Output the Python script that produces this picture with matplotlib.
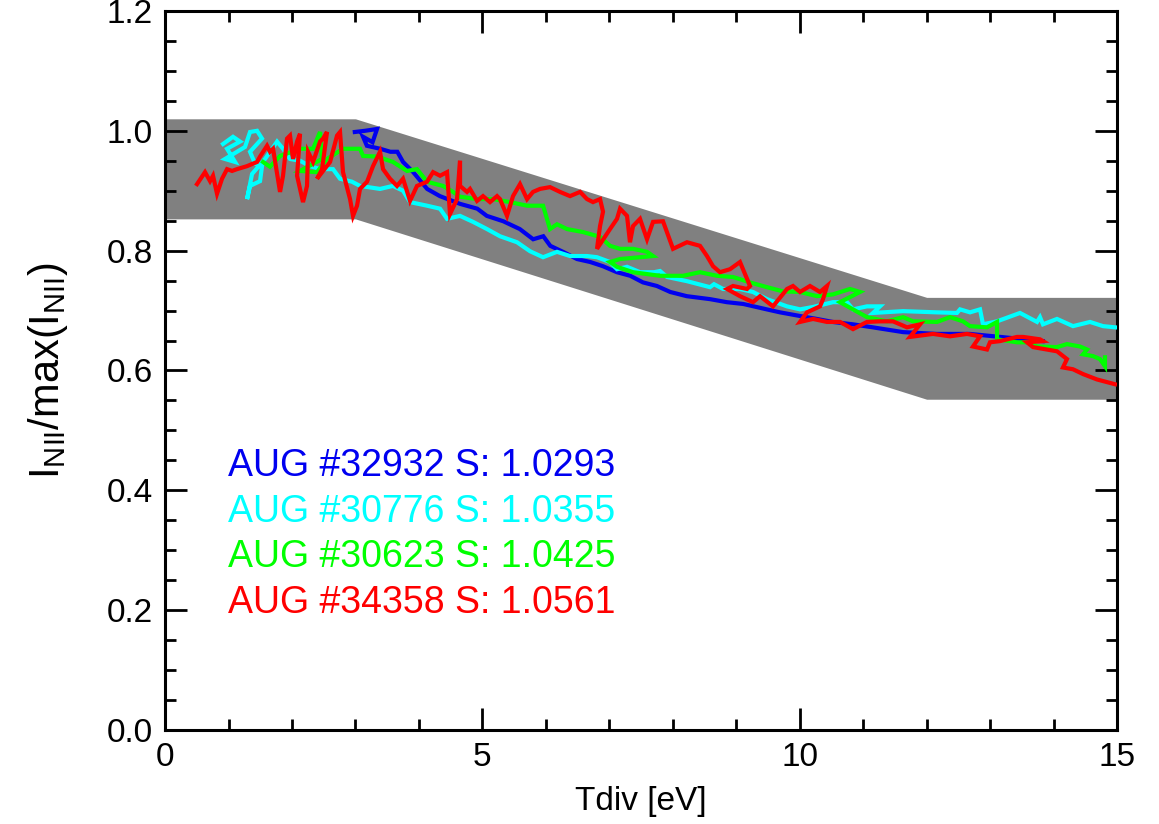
import matplotlib
matplotlib.use("Agg")
import matplotlib.pyplot as plt
from matplotlib.ticker import MultipleLocator

plt.rcParams['font.family'] = ['Liberation Sans', 'DejaVu Sans']
plt.rcParams['mathtext.fontset'] = 'custom'
plt.rcParams['mathtext.rm'] = 'Liberation Sans'
plt.rcParams['mathtext.it'] = 'Liberation Sans'

# ---- band (uncertainty corridor) ----
band_x = [0, 3, 12, 15]
band_lo = [0.853, 0.853, 0.552, 0.552]
band_hi = [1.02, 1.02, 0.722, 0.722]

# ---- AUG #32932 (blue) ----
blue_x = [2.99, 3.15, 3.34, 3.27, 3.12, 3.18, 3.39, 3.55, 3.66, 3.75, 3.91, 4.13, 4.33, 4.65, 4.92,
          5.07, 5.33, 5.59, 5.80, 5.96, 6.07, 6.27, 6.49, 6.70, 6.90, 7.12, 7.33, 7.53, 7.75, 7.96,
          8.22, 8.59, 8.85, 9.11, 9.48, 9.69, 10.0, 10.27, 10.52, 10.84, 11.15, 11.63, 12.16, 12.68,
          13.16, 13.83]
blue_y = [0.998, 1.0, 1.003, 0.981, 0.99, 0.975, 0.970, 0.965, 0.965, 0.948, 0.931, 0.903, 0.891,
          0.878, 0.870, 0.858, 0.849, 0.836, 0.819, 0.824, 0.808, 0.798, 0.786, 0.781, 0.774, 0.764,
          0.758, 0.747, 0.741, 0.731, 0.724, 0.719, 0.714, 0.711, 0.702, 0.697, 0.691, 0.686, 0.681,
          0.677, 0.672, 0.664, 0.661, 0.661, 0.656, 0.649]

# ---- AUG #30776 (cyan) ----
cyan_x = [0.914, 1.071, 1.182, 0.977, 1.103, 0.945, 1.260, 1.339, 1.450, 1.528, 1.339, 1.418, 1.528,
          1.497, 1.339, 1.292, 1.371, 1.576, 1.765, 1.859, 1.969, 2.127, 2.285, 2.442, 2.647, 2.757,
          2.946, 3.072, 3.387, 3.592, 3.750, 3.860, 4.128, 4.333, 4.443, 4.648, 4.853, 5.073, 5.278,
          5.546, 5.751, 5.956, 6.176, 6.381, 6.649, 6.806, 7.011, 7.121, 7.279, 7.484, 7.705, 7.799,
          7.910, 8.225, 8.587, 8.650, 8.792, 9.059, 9.264, 9.485, 9.800, 10.005, 10.210, 10.525,
          10.745, 10.840, 11.060, 11.265, 11.155, 11.312, 11.628, 12.163, 12.478, 12.526, 12.683,
          12.841, 12.888, 13.109, 13.471, 13.739, 13.786, 13.833, 14.054, 14.306, 14.574, 14.779,
          14.968]
cyan_y = [0.978, 0.990, 0.982, 0.970, 0.948, 0.953, 0.973, 0.998, 1.0, 0.987, 0.965, 0.945, 0.941,
          0.916, 0.908, 0.886, 0.928, 0.953, 0.982, 0.970, 0.953, 0.950, 0.941, 0.936, 0.936, 0.920,
          0.915, 0.908, 0.903, 0.908, 0.900, 0.881, 0.875, 0.870, 0.853, 0.858, 0.848, 0.836, 0.824,
          0.814, 0.799, 0.789, 0.798, 0.791, 0.791, 0.789, 0.781, 0.769, 0.773, 0.764, 0.764, 0.766,
          0.756, 0.749, 0.739, 0.744, 0.736, 0.736, 0.731, 0.719, 0.707, 0.702, 0.706, 0.714, 0.714,
          0.702, 0.707, 0.707, 0.696, 0.697, 0.699, 0.697, 0.696, 0.702, 0.697, 0.702, 0.677, 0.682,
          0.696, 0.681, 0.689, 0.677, 0.686, 0.674, 0.681, 0.674, 0.672]

# ---- AUG #30623 (green) ----
green_x = [1.544, 1.654, 1.812, 2.127, 2.332, 2.442, 2.474, 2.127, 2.395, 2.552, 2.804, 3.072, 3.120,
           3.340, 3.592, 3.813, 3.970, 4.128, 4.380, 4.538, 4.648, 4.916, 5.168, 5.436, 5.704, 5.956,
           6.066, 6.176, 6.334, 6.586, 6.854, 7.011, 7.169, 7.374, 7.594, 7.689, 7.484, 7.169, 7.011,
           7.121, 7.374, 7.799, 8.161, 8.429, 8.697, 8.949, 9.217, 9.485, 9.737, 10.005, 10.273,
           10.525, 10.792, 10.950, 10.635, 11.060, 11.375, 11.628, 11.785, 12.163, 12.368, 12.573,
           12.683, 12.951, 13.109, 13.109, 13.424, 13.628, 13.739, 14.054, 14.211, 14.416, 14.527,
           14.464, 14.621, 14.731, 14.810, 14.810]
green_y = [0.948, 0.940, 0.958, 0.970, 0.970, 0.998, 0.953, 0.933, 0.931, 0.953, 0.970, 0.970, 0.958,
           0.957, 0.948, 0.933, 0.936, 0.915, 0.908, 0.898, 0.890, 0.886, 0.886, 0.881, 0.875, 0.875,
           0.836, 0.844, 0.836, 0.831, 0.823, 0.808, 0.803, 0.803, 0.798, 0.791, 0.789, 0.786, 0.781,
           0.773, 0.764, 0.758, 0.758, 0.764, 0.758, 0.756, 0.747, 0.739, 0.732, 0.731, 0.724, 0.727,
           0.736, 0.731, 0.714, 0.689, 0.682, 0.689, 0.682, 0.681, 0.689, 0.682, 0.674, 0.672, 0.681,
           0.652, 0.647, 0.647, 0.640, 0.639, 0.644, 0.640, 0.635, 0.627, 0.624, 0.619, 0.607, 0.622]

# ---- AUG #34358 (red) ----
red_x = [0.504, 0.630, 0.709, 0.756, 0.819, 0.898, 0.977, 1.056, 1.134, 1.292, 1.450, 1.497, 1.607,
         1.654, 1.702, 1.812, 1.859, 1.922, 1.969, 2.017, 2.080, 2.127, 2.080, 2.174, 2.237, 2.253,
         2.332, 2.442, 2.489, 2.552, 2.474, 2.395, 2.600, 2.710, 2.757, 2.804, 2.915, 2.962, 3.025,
         3.072, 3.183, 3.277, 3.387, 3.435, 3.545, 3.655, 3.750, 3.860, 3.970, 4.128, 4.223, 4.333,
         4.443, 4.490, 4.601, 4.648, 4.648, 4.758, 4.805, 4.916, 5.010, 5.120, 5.231, 5.278, 5.388,
         5.483, 5.593, 5.704, 5.798, 5.908, 6.066, 6.223, 6.381, 6.539, 6.649, 6.743, 6.854, 6.901,
         6.854, 6.806, 7.011, 7.121, 7.169, 7.279, 7.326, 7.374, 7.484, 7.594, 7.689, 7.846, 8.004,
         8.224, 8.429, 8.539, 8.634, 8.744, 8.902, 9.059, 9.217, 9.170, 8.949, 8.855, 9.059, 9.264,
         9.375, 9.579, 9.800, 9.894, 10.005, 10.162, 10.320, 10.430, 10.367, 10.320, 10.115, 10.005,
         10.210, 10.430, 10.635, 10.840, 11.060, 11.265, 11.470, 11.691, 11.896, 11.738, 12.100,
         12.368, 12.636, 12.841, 12.730, 12.951, 12.998, 13.156, 13.424, 13.518, 13.786, 13.833,
         13.581, 13.676, 14.054, 14.211, 14.148, 14.306, 14.464, 14.684, 14.968]
red_y = [0.911, 0.931, 0.916, 0.925, 0.895, 0.920, 0.936, 0.933, 0.936, 0.941, 0.948, 0.957, 0.975,
         0.965, 0.970, 0.898, 0.925, 0.987, 0.992, 0.953, 0.982, 0.995, 0.925, 0.881, 0.908, 0.965,
         0.948, 0.982, 0.987, 0.998, 0.936, 0.920, 0.948, 0.992, 0.998, 0.931, 0.886, 0.858, 0.875,
         0.903, 0.915, 0.941, 0.965, 0.936, 0.920, 0.908, 0.920, 0.883, 0.908, 0.915, 0.931, 0.925,
         0.931, 0.861, 0.886, 0.950, 0.908, 0.898, 0.903, 0.883, 0.891, 0.881, 0.891, 0.886, 0.858,
         0.891, 0.911, 0.886, 0.898, 0.903, 0.906, 0.898, 0.891, 0.898, 0.886, 0.881, 0.886, 0.865,
         0.841, 0.803, 0.836, 0.853, 0.870, 0.858, 0.814, 0.841, 0.853, 0.819, 0.848, 0.849, 0.803,
         0.814, 0.808, 0.791, 0.774, 0.764, 0.769, 0.781, 0.741, 0.736, 0.741, 0.736, 0.724, 0.714,
         0.724, 0.707, 0.736, 0.741, 0.731, 0.741, 0.731, 0.741, 0.719, 0.707, 0.697, 0.681, 0.686,
         0.681, 0.681, 0.669, 0.681, 0.682, 0.682, 0.672, 0.677, 0.656, 0.661, 0.657, 0.661, 0.657,
         0.640, 0.635, 0.647, 0.649, 0.656, 0.656, 0.652, 0.649, 0.647, 0.639, 0.632, 0.619, 0.605,
         0.602, 0.594, 0.585, 0.577]

labels = ["AUG #32932 S: 1.0293", "AUG #30776 S: 1.0355",
          "AUG #30623 S: 1.0425", "AUG #34358 S: 1.0561"]
colors = ["#0000F0", "#00FFFF", "#00FF00", "#FF0000"]
label_x = 0.99
label_y = [0.441, 0.364, 0.289, 0.212]

fig = plt.figure(figsize=(11.59, 8.24), dpi=100)
ax = fig.add_axes([0.1424, 0.1141, 0.8214, 0.8726])

ax.fill_between(band_x, band_lo, band_hi, color="#808080", linewidth=0, zorder=1)

series = [(blue_x, blue_y), (cyan_x, cyan_y), (green_x, green_y), (red_x, red_y)]
for (xs, ys), c in zip(series, colors):
    ax.plot(xs, ys, color=c, lw=3.0, zorder=3, solid_joinstyle='miter')

for t, c, yy in zip(labels, colors, label_y):
    ax.text(label_x, yy, t, color=c, fontsize=27, va='center', ha='left')

ax.set_xlim(0, 15)
ax.set_ylim(0, 1.2)
ax.xaxis.set_major_locator(MultipleLocator(5))
ax.xaxis.set_minor_locator(MultipleLocator(1))
ax.yaxis.set_major_locator(MultipleLocator(0.2))
ax.yaxis.set_minor_locator(MultipleLocator(0.05))
ax.tick_params(which='both', direction='in', top=True, right=True, width=2)
ax.tick_params(which='major', length=16, labelsize=24, pad=9)
ax.tick_params(which='minor', length=8)
ax.set_yticks([0, 0.2, 0.4, 0.6, 0.8, 1.0, 1.2])
ax.set_yticklabels(["0.0", "0.2", "0.4", "0.6", "0.8", "1.0", "1.2"])
for lab in ax.get_xticklabels():
    lab.set_fontsize(24)
for sp in ax.spines.values():
    sp.set_linewidth(2.2)

ax.set_xlabel("Tdiv [eV]", fontsize=24, labelpad=9)
ax.set_ylabel(r"I$_{\mathregular{NII}}$/max(I$_{\mathregular{NII}}$)", fontsize=30, labelpad=26)

fig.savefig("out.png", dpi=100)
